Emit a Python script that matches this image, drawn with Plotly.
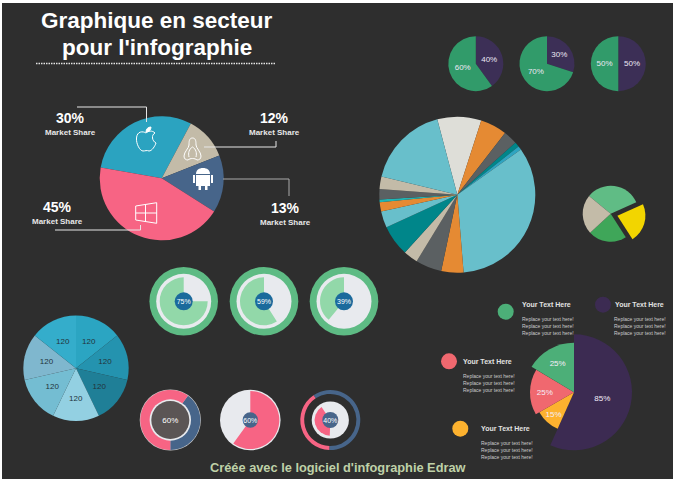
import plotly.graph_objects as go

W, H = 673, 479
BG = "#2e2e2e"
NONE = "rgba(0,0,0,0)"

# ---- data ----
main_values = [30, 11.2, 15, 43.8]
main_labels = ["30%", "12%", "13%", "45%"]
top_shares = [[40, 60], [30, 70], [50, 50]]
big_values = [9.1, 5.5, 2.9, 1.0, 0.8, 33.5, 4.6, 5.4, 3.0, 6.4, 3.4, 1.9, 0.6, 2.1, 2.6, 17.1]
big_colors = ["#DEDED8", "#E58A33", "#5B6062", "#00868A", "#2EA4C0", "#68BFCB", "#E58A33", "#5B6062",
              "#C3BBA8", "#00868A", "#68BFCB", "#E58A33", "#1FB5B5", "#5B6062", "#C3BBA8", "#68BFCB"]
wedge_values = [32.4, 22.6, 22.2, 22.8]
ring_values = [75, 59, 39]
blue_values = [120, 120, 120, 120, 120, 120, 120]
blue_colors = ["#2BA5C2", "#2493AF", "#1F7F97", "#93D0E2", "#74BDD2", "#7FB7CE", "#34ADCB"]
mix_share = [56.7, 10, 16.9, 16.4]
mix_labels = ["85%", "15%", "25%", "25%"]
MARKET = "Market Share"
BODY = "Replace your text here!"

fig = go.Figure()
fig.add_trace(go.Scatter(x=[], y=[], showlegend=False, hoverinfo="skip"))


def pie(cx, cy, R, values, colors, rotation=0, text=None, size=9, color="white", pull=0, hole=0):
    fig.add_trace(go.Pie(
        values=values, sort=False, direction="clockwise", rotation=rotation, hole=hole,
        domain=dict(x=[(cx - R) / W, (cx + R) / W], y=[1 - (cy + R) / H, 1 - (cy - R) / H]),
        marker=dict(colors=colors, line=dict(width=0)), pull=pull,
        text=text if text else None, textinfo="text" if text else "none",
        textposition="inside", insidetextorientation="horizontal",
        insidetextfont=dict(family="Liberation Sans", size=size, color=color),
        hoverinfo="skip", showlegend=False))


# main pie
pie(161.7, 178.3, 62, main_values, ["#2BA3C0", "#C3BBA8", "#47658A", "#F76484"], rotation=280)

# top three pies
for cx, s in zip([475.8, 547, 618.3], top_shares):
    pie(cx, 63.7, 27.5, s, ["#3C2F56", "#319B6A"], text=[f"{v}%" for v in s], size=8, color="#ece8f4")

# big pie
pie(457.3, 194.7, 78, big_values, big_colors, rotation=-14.9)

# exploded small pie
pie(610.7, 213.7, 35, wedge_values, ["#60BC85", "#F2D500", "#3FA659", "#C3BBA8"], rotation=-50.6,
    pull=[0, 0.25, 0, 0])

# seven-slice pie, labels set on a smaller clear pie so they sit nearer the centre
pie(76, 368.3, 52.7, blue_values, blue_colors)
pie(76, 368.3, 43, blue_values, [NONE] * 7, text=[str(v) for v in blue_values], size=8, color="#23343c")

# ringed dials
for cx, v in zip([183.7, 264, 344], ring_values):
    pie(cx, 301.3, 34.3, [1], ["#5EBB84"])
    pie(cx, 301.3, 27.5, [1], ["#E8EAEE"])
    pie(cx, 301.3, 24, [100 - v, v], [NONE, "#92D8A9"])
    pie(cx, 301.3, 9, [1], ["#1B6A9C"], text=[f"{v}%"], size=7)

# bottom dials
pie(170.3, 420, 30.6, [1], ["#C9C9C9"])
pie(170.3, 420, 30, [40, 60], ["#47658A", "#F76484"], rotation=36)
pie(170.3, 420, 20.7, [1], ["#E8EAEE"])
pie(170.3, 420, 19, [1], ["#5B5555"], text=["60%"], size=8)

pie(250.3, 420, 30.3, [1], ["#E8EAEE"])
pie(250.3, 420, 29, [60, 40], ["#F76484", NONE])
pie(250.3, 420, 7.7, [1], ["#47658A"])
pie(250.3, 420, 12, [1], [NONE], text=["60%"], size=7)

pie(330.3, 420, 30, [60, 40], ["#47658A", "#F76484"], rotation=-34, hole=0.87)
pie(330.3, 420, 18.6, [1], ["#E8EAEE"])
pie(330.3, 420, 15.7, [60, 40], [NONE, "#F76484"], rotation=-34)
pie(330.3, 420, 8, [1], ["#47658A"])
pie(330.3, 420, 12, [1], [NONE], text=["40%"], size=7)

# mixed-radius pie
ang = 0
for share, R, col, lab in zip(mix_share, [58, 40, 44, 49.5], ["#3C2B52", "#FDB22F", "#F0686F", "#4CAF78"], mix_labels):
    pie(574, 392.3, R, [share, 100 - share], [col, NONE], rotation=ang, text=[lab, ""], size=8,
        color="#f4eef8")
    ang += share * 3.6

# ---- shapes ----
XY = dict(xref="x", yref="y")
shapes = [dict(type="rect", x0=2, y0=3, x1=673, y1=479, fillcolor=BG, line_width=0, layer="below", **XY)]


def seg(pts, color="#e6e6e6", w=1):
    d = "M" + " L".join(f"{x},{y}" for x, y in pts)
    shapes.append(dict(type="path", path=d, line=dict(color=color, width=w), **XY))


shapes.append(dict(type="line", x0=36, x1=275, y0=63.5, y1=63.5,
                   line=dict(color="#e4e4e4", width=1.5, dash="1.5px,1px"), **XY))
seg([(77, 107), (146.5, 107), (146.5, 122)])
seg([(204, 147), (276, 147), (276, 141)])
seg([(223, 179), (289, 179), (289, 196)], "#aaaaaa")
seg([(55, 230), (140.5, 230), (140.5, 225)])

for cx, cy, col in [(505.7, 311.7, "#4CAF78"), (603, 304.7, "#3C2B52"), (449, 361.3, "#F0686F"), (460.3, 428.7, "#FDB22F")]:
    shapes.append(dict(type="circle", x0=cx - 8, x1=cx + 8, y0=cy - 8, y1=cy + 8, fillcolor=col, line_width=0, **XY))

# icons
ICON = dict(line=dict(color="white", width=1), **XY)
FILL = dict(fillcolor="white", line_width=0, **XY)
shapes += [
    # apple
    dict(type="path", path="M146,133 C143,131 137,131 136.5,138 C136,144 140,151 143,151 C145,151 147,150 149,151 C152,151 155,146 156,143 C152,141 151,135 155,133 C152,130 148,131 146,133 Z", **ICON),
    dict(type="path", path="M146,132 C146,129 148,127 151,127 C151,130 149,132 146,132 Z", fillcolor="white", **ICON),
    # penguin
    dict(type="path", path="M192.5,138 C189,138 189,142 189,145 C189,148 184,152 184,156 C184,159 186,160 188,160 C190,158 195,158 197,160 C199,160 201,159 201,156 C201,152 196,148 196,145 C196,142 196,138 192.5,138 Z", **ICON),
    dict(type="path", path="M192.5,147 C189,149 188,153 189,157 M192.5,147 C196,149 197,153 196,157", **ICON),
    # android
    dict(type="path", path="M196,174 C196,170 199,168 203,168 C207,168 210,170 210,174 Z", **FILL),
    dict(type="path", path="M196,175 L210,175 L210,186 L207.5,186 L207.5,190 L205,190 L205,186 L201,186 L201,190 L198.5,190 L198.5,186 L196,186 Z", **FILL),
    dict(type="path", path="M193,175 L195,175 L195,183 L193,183 Z M211,175 L213,175 L213,183 L211,183 Z", **FILL),
    # windows
    dict(type="path", path="M135.7,206 L156.7,202.7 L156.7,223.3 L135.7,220 Z M145.5,204.5 L145.5,221.5 M135.7,213 L156.7,213", **ICON),
]

# ---- text ----
ann = []


def t(x, y, s, size, color="white", bold=False, anchor="center"):
    ann.append(dict(x=x, y=y, text=f"<b>{s}</b>" if bold else s, showarrow=False, xanchor=anchor, yanchor="middle",
                    xref="x", yref="y", font=dict(family="Liberation Sans", size=size, color=color)))


t(156.5, 20, "Graphique en secteur", 22.5, bold=True)
t(156.5, 47, "pour l'infographie", 22.5, bold=True)
for x, y, lab in [(70, 118, main_labels[0]), (274, 118, main_labels[1]), (285, 208, main_labels[2]), (57, 207, main_labels[3])]:
    t(x, y, lab, 14, bold=True)
    t(x, y + 14, MARKET, 8, color="#e8e8e8", bold=True)

for x, y, ys in [(520.3, 304.3, (319, 326, 332.5)), (612.7, 304.3, (319, 326, 332.5)),
                 (461.3, 361.3, (376, 382.5, 389.5)), (479, 428.3, (443, 450, 456.5))]:
    t(x, y, "Your Text Here", 7, color="#e2e2e2", bold=True, anchor="left")
    for yy in ys:
        t(x - 0.5, yy, BODY, 5, color="#cccccc", anchor="left")

t(338, 467, "Créée avec le logiciel d'infographie Edraw", 12.8, color="#BFD1A8", bold=True)

fig.update_layout(
    width=W, height=H, margin=dict(l=0, r=0, t=0, b=0), paper_bgcolor="white", plot_bgcolor=NONE,
    xaxis=dict(range=[0, W], visible=False, fixedrange=True),
    yaxis=dict(range=[H, 0], visible=False, fixedrange=True),
    shapes=shapes, annotations=ann,
)
fig.write_html("out.html", post_script="document.body.style.margin='0';", config=dict(displayModeBar=False))
